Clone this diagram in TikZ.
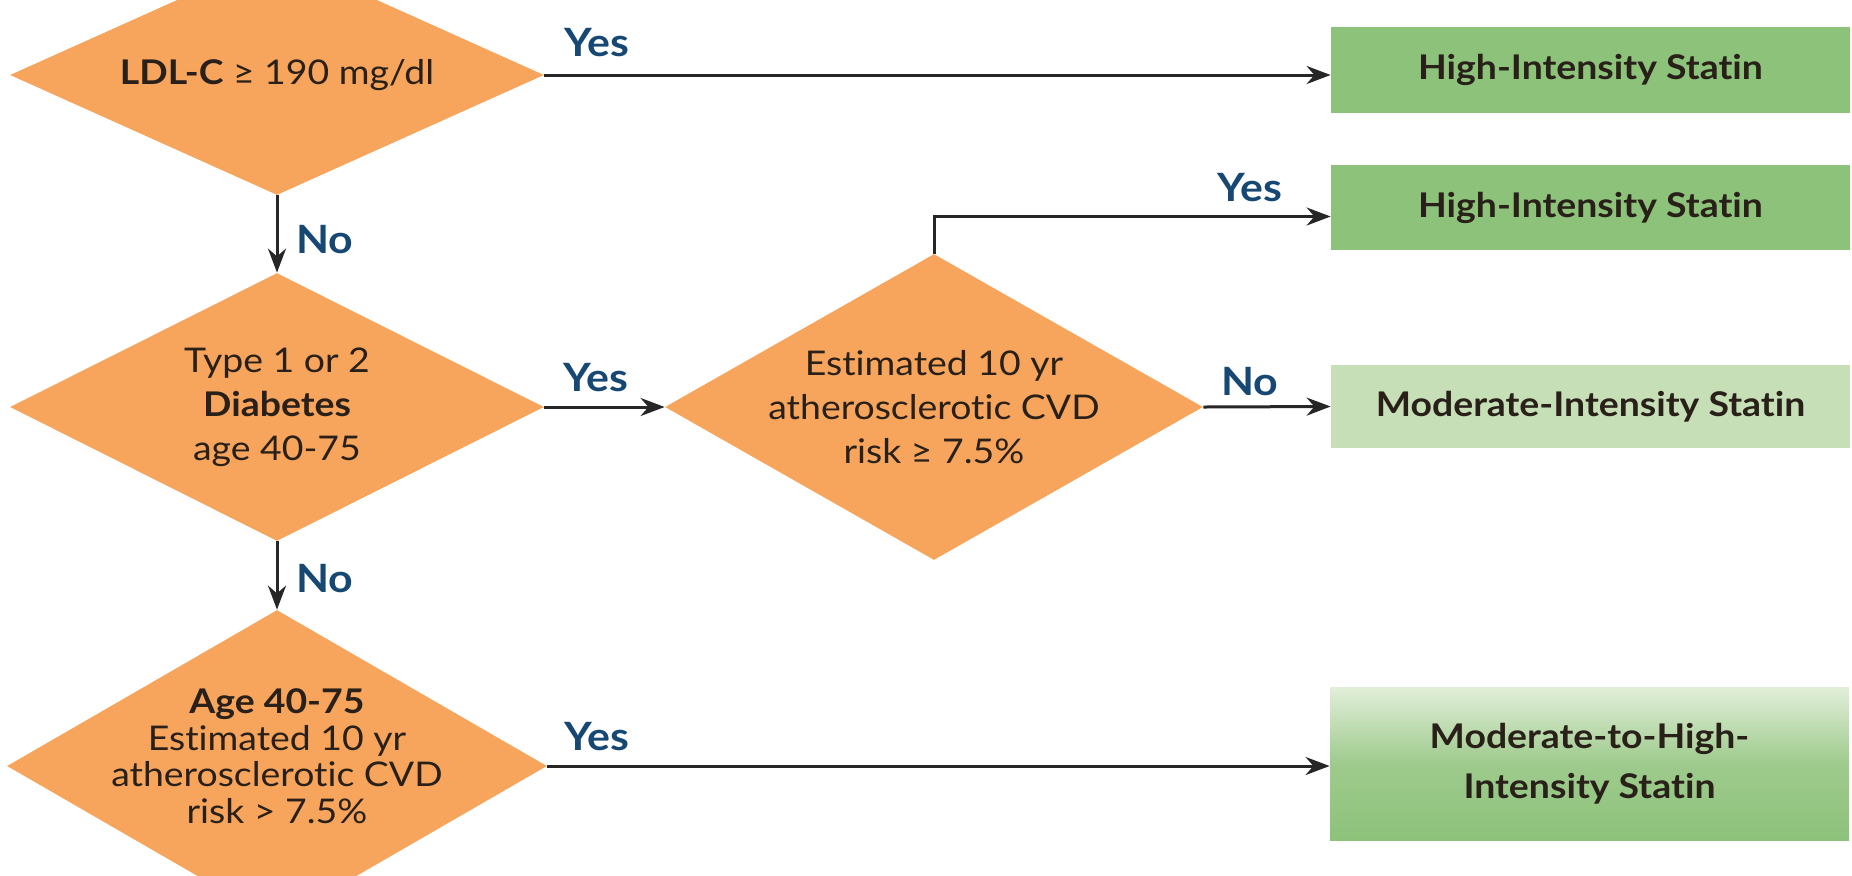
\documentclass[tikz,border=0pt]{standalone}
\usepackage{fontspec}
\setmainfont{Lato}[FakeStretch=1.1, Ligatures=NoCommon]
\usepackage{tikz}
\usetikzlibrary{shapes.geometric}
\usetikzlibrary{arrows.meta}
\usetikzlibrary{positioning}

\definecolor{decorange}{RGB}{247,164,92}
\definecolor{statingreen}{RGB}{141,194,122}
\definecolor{statinlight}{RGB}{198,223,183}
\definecolor{gradtop}{RGB}{226,238,217}
\definecolor{ansblue}{RGB}{22,72,115}
\definecolor{txtdark}{RGB}{40,32,25}

\tikzset{
  decision/.style={diamond, fill=decorange, inner sep=0pt},
  qtext/.style={font=\fontsize{17}{22}\selectfont, text=txtdark, align=center},
  outcome/.style={rectangle, fill=statingreen, inner sep=0pt, minimum width=259.5pt,
    font=\fontsize{17}{25}\selectfont\bfseries, text=txtdark, align=center},
  answer/.style={font=\fontsize{19.5}{19.5}\selectfont\bfseries, text=ansblue},
  flow/.style={-{Stealth[length=12pt,width=9pt]}, line width=1.5pt, draw=black!85}
}

\begin{document}
\begin{tikzpicture}[x=0.5pt,y=-0.5pt]
\useasboundingbox (0,0) rectangle (1852,875);
\clip (0,0) rectangle (1852,875);

% questions
\node[decision, minimum width=267pt, minimum height=120pt] (ldl) at (277,75) {};
\node[qtext] (ldltxt) at (ldl.center) {\textbf{LDL-C} ≥ 190 mg/dl};

\node[decision, minimum width=267pt, minimum height=134pt] (diab) at (277,407) {};
\node[qtext] (diabtxt) at (diab.center) {Type 1 or 2\\\textbf{Diabetes}\\age 40-75};

\node[decision, minimum width=269pt, minimum height=153pt] (risk) at (934,407) {};
\node[qtext] (risktxt) at (risk.center) {Estimated 10 yr\\atherosclerotic CVD\\risk ≥ 7.5\%};

\node[decision, minimum width=270pt, minimum height=156pt] (age) at (277,766) {};
\node[qtext, font=\fontsize{17}{18.3}\selectfont] (agetxt) at (277,756)
  {\textbf{Age 40-75}\\Estimated 10 yr\\atherosclerotic CVD\\risk > 7.5\%};

% statins
\node[outcome, minimum height=43pt] (hisa) at (1590.5,70) {High-Intensity Statin};
\node[outcome, minimum height=42.5pt] (hisb) at (1590.5,207.5) {High-Intensity Statin};
\node[outcome, fill=statinlight, minimum height=41.5pt] (mis) at (1590.5,406.5) {Moderate-Intensity Statin};
\node[outcome, top color=gradtop, bottom color=statingreen, middle color=statingreen!80!gradtop,
  minimum height=76.5pt] (mhis) at (1589.5,763.5) {Moderate-to-High-\\Intensity Statin};

% arrows
\draw[flow] (ldl.east) -- (ldl.east -| hisa.west);
\draw[flow] (ldl.south) -- (diab.north);
\draw[flow] (diab.east) -- (risk.west);
\draw[flow] (risk.north) |- ([yshift=-4.5pt]hisb.west);
\draw[flow] (risk.east) -- (mis.west);
\draw[flow] (diab.south) -- (age.north);
\draw[flow] (age.east) -- (age.east -| mhis.west);

\node[answer] (yesldl) at (597,43) {Yes};
\node[answer] (noldl) at (325,240) {No};
\node[answer] (yesdiab) at (596,378) {Yes};
\node[answer] (nodiab) at (325,579) {No};
\node[answer] (yesrisk) at (1250,188) {Yes};
\node[answer] (norisk) at (1250,382) {No};
\node[answer] (yesage) at (597,737) {Yes};

\end{tikzpicture}
\end{document}
